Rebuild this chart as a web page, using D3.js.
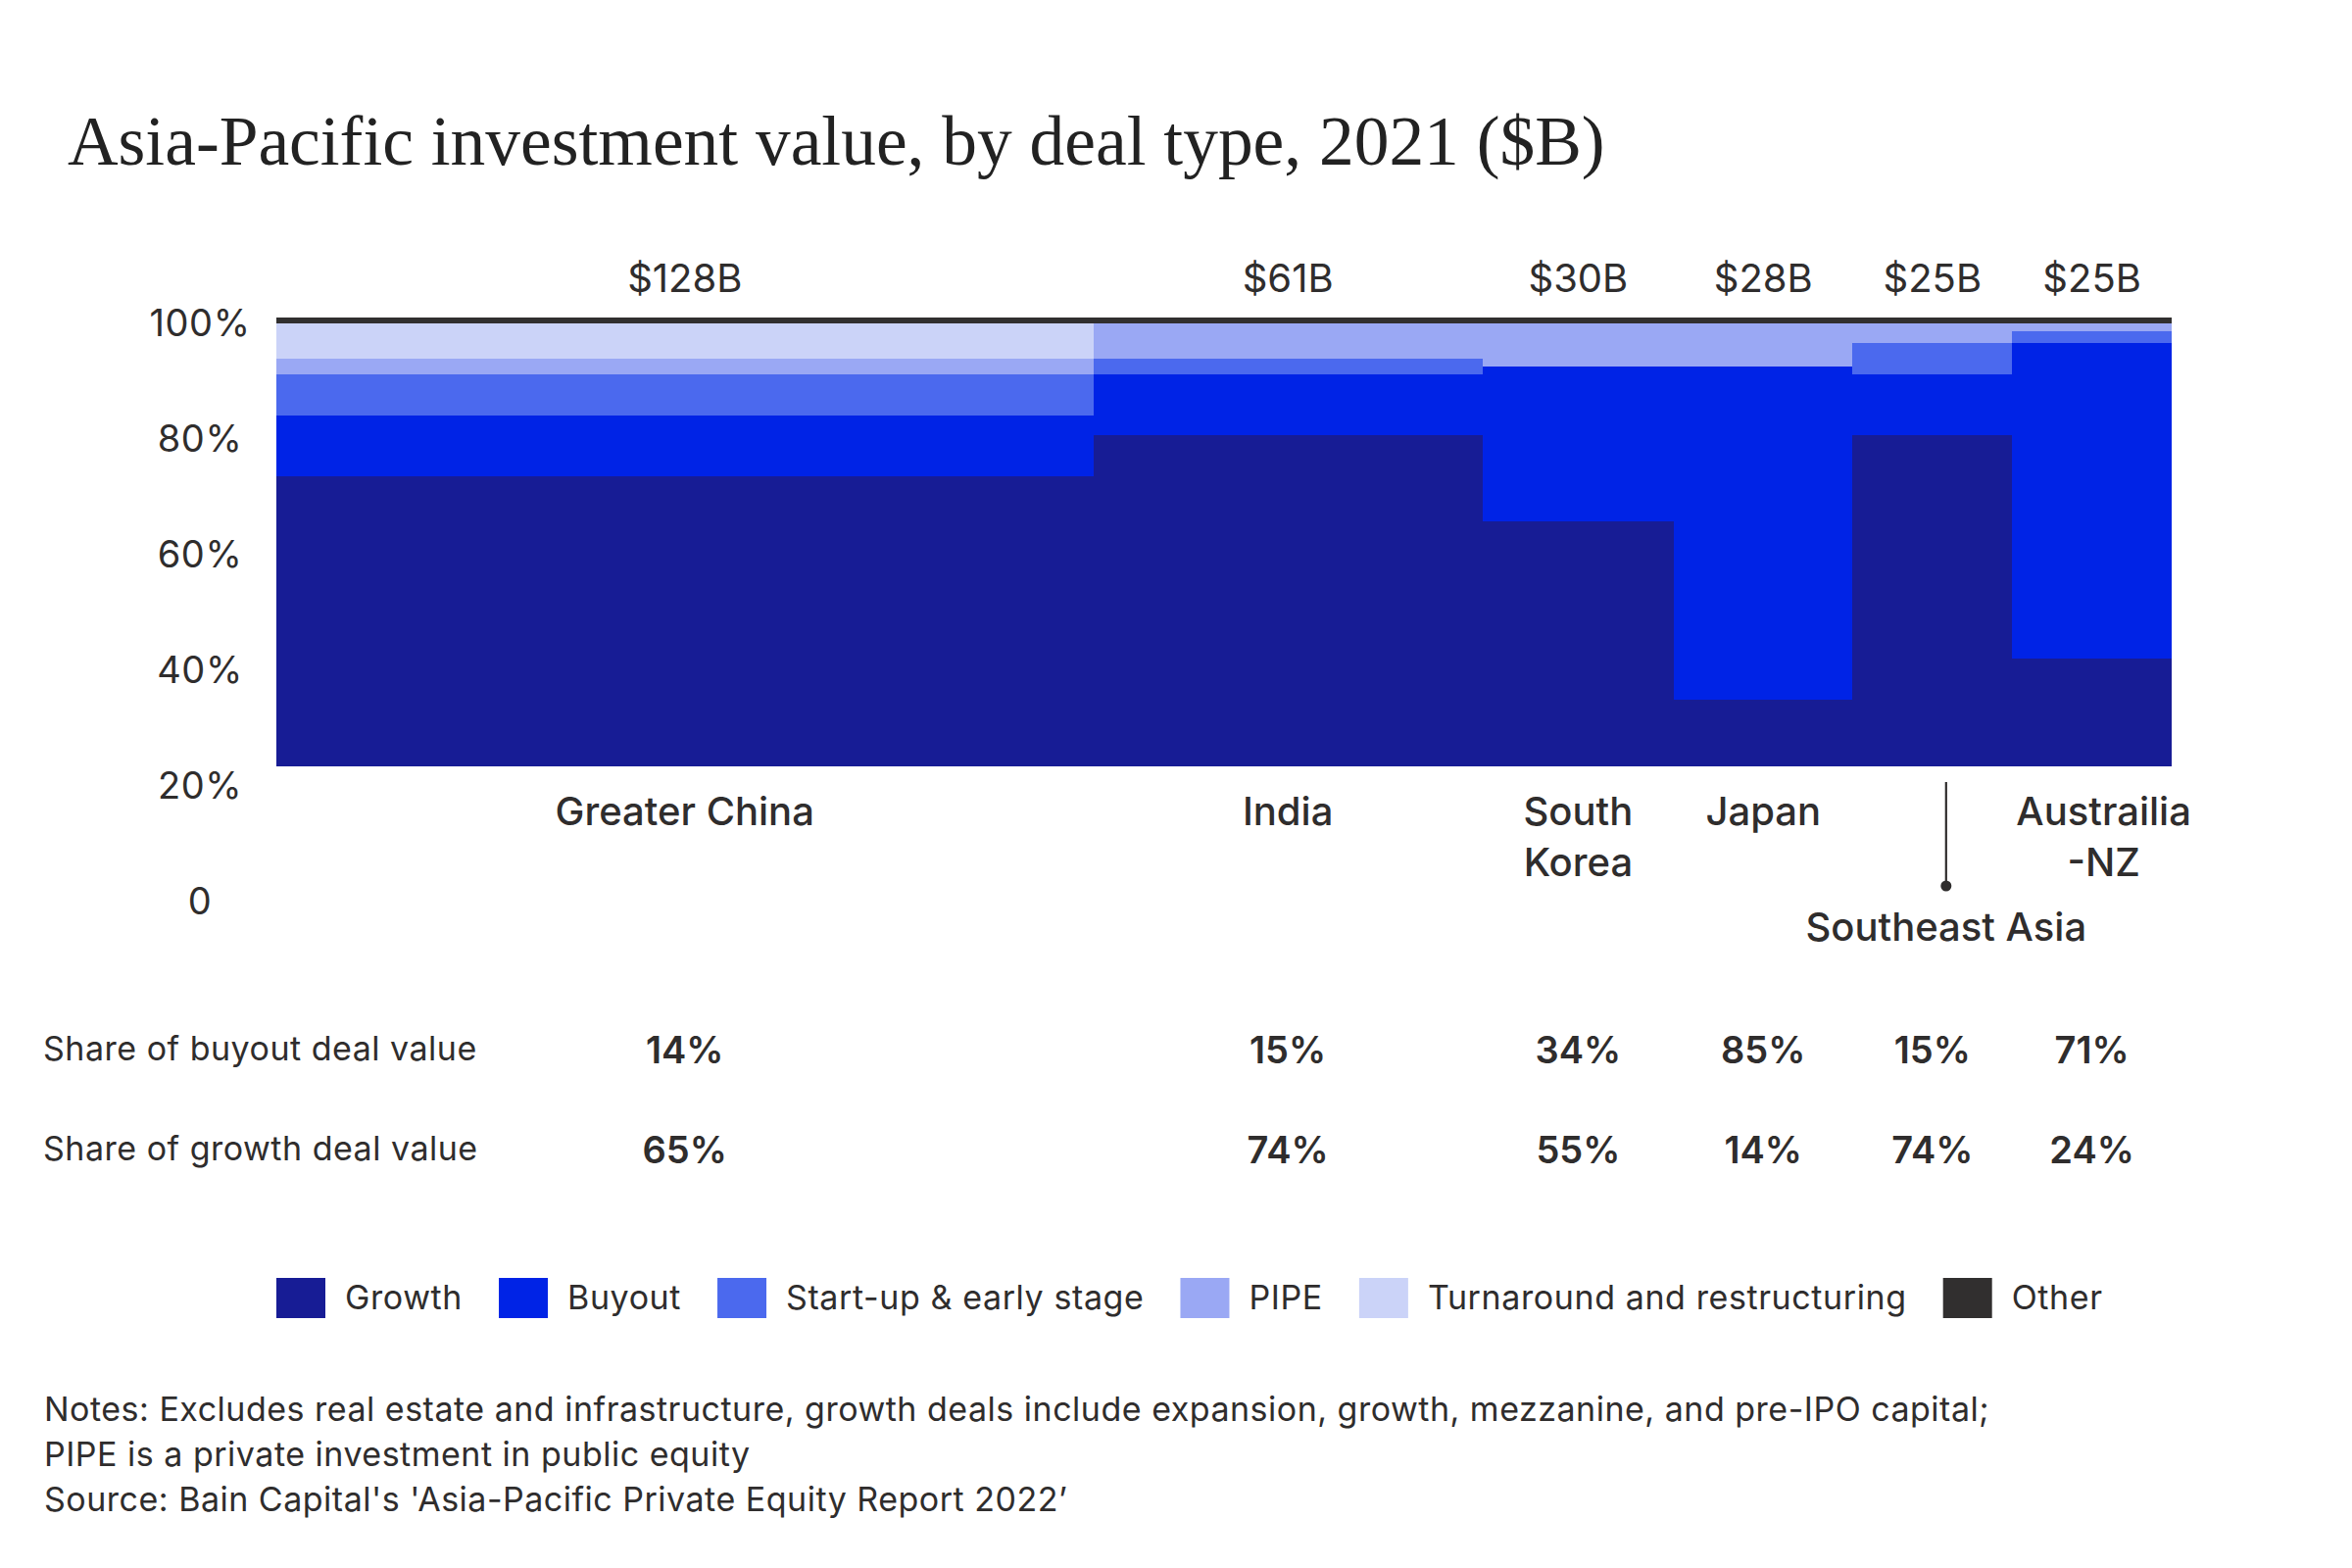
<!DOCTYPE html>
<html>
<head>
<meta charset="utf-8">
<script src="https://cdnjs.cloudflare.com/ajax/libs/d3/7.8.5/d3.min.js"></script>
<style>
  html, body { margin: 0; padding: 0; background: #ffffff; }
  svg { display: block; }
  text { font-family: Inter, "Noto Sans", sans-serif; fill: #2f2d2d; }
</style>
</head>
<body>
<svg id="chart" width="2400" height="1600"></svg>
<script>
// ---------- data ----------
const regions = ["Greater China", "India", "South Korea", "Japan", "Southeast Asia", "Austrailia-NZ"];
const regionLines = [["Greater China"], ["India"], ["South", "Korea"], ["Japan"], [], ["Austrailia", "-NZ"]];
const totals = [128, 61, 30, 28, 25, 25];               // $B, width of each column
const growth     = [64.6, 73.8, 54.6, 14.8, 73.8, 24.0];
const buyout     = [13.5, 13.5, 34.5, 74.3, 13.5, 70.4];
const startup    = [9.2, 3.5, 0, 0, 7.0, 2.6];
const pipe       = [3.5, 7.9, 9.6, 9.6, 4.4, 1.7];
const turnaround = [7.9, 0, 0, 0, 0, 0];
const other      = [1.3, 1.3, 1.3, 1.3, 1.3, 1.3];
const buyoutShare = ["14%", "15%", "34%", "85%", "15%", "71%"];
const growthShare = ["65%", "74%", "55%", "14%", "74%", "24%"];
const yTicks = [0, 20, 40, 60, 80, 100];
const seriesNames = ["Growth", "Buyout", "Start-up & early stage", "PIPE", "Turnaround and restructuring", "Other"];
const seriesColors = ["#171c95", "#0023e6", "#4b69ee", "#9aa8f4", "#cbd3f8", "#312f2f"];
const titleText = "Asia-Pacific investment value, by deal type, 2021 ($B)";
const rowLabels = ["Share of buyout deal value", "Share of growth deal value"];
const notes = [
  "Notes: Excludes real estate and infrastructure, growth deals include expansion, growth, mezzanine, and pre-IPO capital;",
  "PIPE is a private investment in public equity",
  "Source: Bain Capital's 'Asia-Pacific Private Equity Report 2022\u2019"
];

// ---------- build table ----------
const seriesArrays = [growth, buyout, startup, pipe, turnaround, other];
const rows = regions.map((r, i) => {
  const o = { region: r, total: totals[i] };
  seriesNames.forEach((s, k) => o[s] = seriesArrays[k][i]);
  return o;
});
let cum = 0;
rows.forEach(r => { r.x0 = cum; cum += r.total; r.x1 = cum; });

const svg = d3.select("#chart");
svg.append("rect").attr("width", 2400).attr("height", 1600).attr("fill", "#fff");

// ---------- scales ----------
const x = d3.scaleLinear().domain([0, d3.sum(totals)]).range([282, 2216]);
const y = d3.scaleLinear().domain([0, 100]).range([782, 324]);
const yLabel = d3.scaleLinear().domain([0, 100]).range([920, 330]); // tick labels as placed in original
const color = d3.scaleOrdinal().domain(seriesNames).range(seriesColors);
const cx = r => (x(r.x0) + x(r.x1)) / 2;

// ---------- title ----------
const title = svg.append("text")
  .attr("x", 69).attr("y", 168)
  .style("font-family", "'Liberation Serif', 'DejaVu Serif', serif")
  .style("font-size", "66px")
  .style("fill", "#222")
  .text(titleText);
const tw = title.node().getComputedTextLength();
title.style("font-size", (66 * 1569 / tw) + "px");

// ---------- bars ----------
const stack = d3.stack().keys(seriesNames)(rows);
svg.append("g").selectAll("g").data(stack).join("g")
  .attr("fill", d => color(d.key))
  .selectAll("rect").data(d => d).join("rect")
  .attr("x", d => x(d.data.x0))
  .attr("width", d => x(d.data.x1) - x(d.data.x0))
  .attr("y", d => y(d[1]))
  .attr("height", d => Math.max(0, y(d[0]) - y(d[1])))
  .attr("shape-rendering", "crispEdges");

// ---------- y axis labels ----------
const yAxis = d3.axisLeft(yLabel).tickValues(yTicks).tickSize(0).tickPadding(0)
  .tickFormat(d => d === 0 ? "0" : d + "%");
const ga = svg.append("g").attr("transform", "translate(204,0)").call(yAxis);
ga.select(".domain").remove();
ga.selectAll("text")
  .attr("x", 0).attr("text-anchor", "middle")
  .style("font-family", "Inter, sans-serif")
  .style("font-size", "38px").style("letter-spacing", "0.6px").style("fill", "#2f2d2d");

// ---------- total labels ----------
svg.append("g").selectAll("text").data(rows).join("text")
  .attr("x", cx).attr("y", 298).attr("text-anchor", "middle")
  .style("font-size", "40px")
  .text(d => "$" + d.total + "B");

// ---------- region labels ----------
const labelShift = { "Austrailia-NZ": 12 };
const rl = svg.append("g");
rows.forEach((r, i) => {
  regionLines[i].forEach((line, j) => {
    rl.append("text")
      .attr("x", cx(r) + (labelShift[r.region] || 0))
      .attr("y", 842 + j * 52)
      .attr("text-anchor", "middle")
      .style("font-size", "40px").style("font-weight", 500)
      .text(line);
  });
});
// Southeast Asia pointer
const sea = rows[4];
const px = cx(sea) + 14;
rl.append("line").attr("x1", px).attr("x2", px).attr("y1", 798).attr("y2", 904)
  .attr("stroke", "#2f2d2d").attr("stroke-width", 2.2);
rl.append("circle").attr("cx", px).attr("cy", 904).attr("r", 5.5).attr("fill", "#2f2d2d");
rl.append("text").attr("x", px).attr("y", 960).attr("text-anchor", "middle")
  .style("font-size", "40px").style("font-weight", 500)
  .text(sea.region);

// ---------- share rows ----------
const tableY = [1083, 1185];
[buyoutShare, growthShare].forEach((vals, k) => {
  svg.append("text").attr("x", 44).attr("y", tableY[k] - 1)
    .style("font-size", "34px").style("letter-spacing", "0.5px").text(rowLabels[k]);
  svg.append("g").selectAll("text").data(rows).join("text")
    .attr("x", cx).attr("y", tableY[k] + 2).attr("text-anchor", "middle")
    .style("font-size", "38px").style("font-weight", 600)
    .text((d, i) => vals[i]);
});

// ---------- legend ----------
const lg = svg.append("g");
let lx = 282;
seriesNames.forEach((s, i) => {
  lg.append("rect").attr("x", lx).attr("y", 1304).attr("width", 50).attr("height", 41)
    .attr("fill", color(s));
  const t = lg.append("text").attr("x", lx + 70).attr("y", 1336)
    .style("font-size", "34px").style("letter-spacing", "0.6px").text(s);
  lx += 70 + t.node().getComputedTextLength() + 37;
});

// ---------- notes ----------
svg.append("g").selectAll("text").data(notes).join("text")
  .attr("x", 45).attr("y", (d, i) => 1450 + i * 46)
  .style("font-size", "34px").style("letter-spacing", "0.5px")
  .text(d => d);
</script>
</body>
</html>
